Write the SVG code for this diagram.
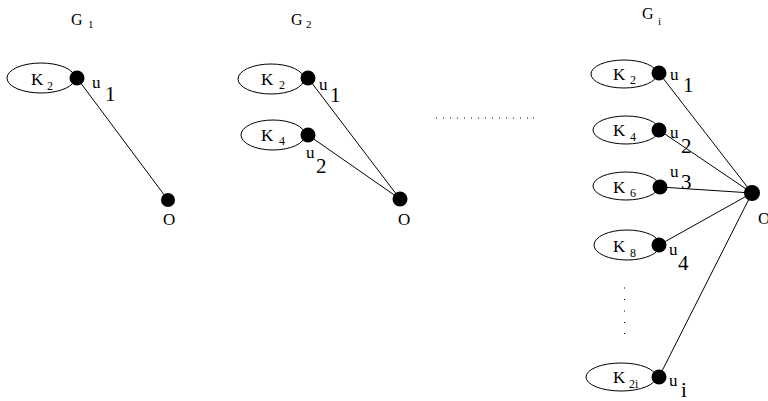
<svg xmlns="http://www.w3.org/2000/svg" width="768" height="401" viewBox="0 0 768 401">
<style>
text{font-family:"Liberation Serif","Times New Roman",serif;fill:#000}
.m{font-size:17px}
.s{font-size:12px}
.u{font-size:17px}
.us{font-size:21px}
.g{font-size:16px}
.gs{font-size:11px}
ellipse{fill:none;stroke:#000;stroke-width:1}
circle{fill:#000}
#edges line{stroke:#000;stroke-width:1}
.dot{fill:#000}
</style>
<rect width="768" height="401" fill="#fff"/>
<g id="edges">
<line x1="77" y1="78" x2="168" y2="200"/>
<line x1="308" y1="78" x2="400" y2="199"/>
<line x1="308" y1="135" x2="400" y2="199"/>
<line x1="659" y1="73" x2="752" y2="193"/>
<line x1="659" y1="130" x2="752" y2="193"/>
<line x1="660" y1="187" x2="752" y2="193"/>
<line x1="659" y1="245" x2="752" y2="193"/>
<line x1="659" y1="377" x2="752" y2="193"/>
</g>
<g id="titles">
<text x="71" y="25" class="g">G</text><text x="88" y="28" class="gs">1</text>
<text x="291" y="25" class="g">G</text><text x="306" y="28" class="gs">2</text>
<text x="642" y="19" class="g">G</text><text x="658" y="25" class="gs">i</text>
</g>
<g id="g1-k2">
<ellipse cx="41" cy="78" rx="34" ry="15"/>
<text x="31" y="85" class="m">K</text><text x="47" y="90" class="s">2</text>
</g>
<g id="g1-u1">
<circle cx="77" cy="78" r="7.5"/>
<text x="92" y="88" class="u">u</text><text x="105" y="101" class="us">1</text>
</g>
<g id="g1-o">
<circle cx="168" cy="200" r="7"/>
<text x="163" y="225" class="m">O</text>
</g>
<g id="g2-k2">
<ellipse cx="271" cy="79" rx="33" ry="15"/>
<text x="261" y="85" class="m">K</text><text x="279" y="89" class="s">2</text>
</g>
<g id="g2-u1">
<circle cx="308" cy="78" r="7.5"/>
<text x="319" y="90" class="u">u</text><text x="330" y="102" class="us">1</text>
</g>
<g id="g2-k4">
<ellipse cx="273" cy="135" rx="32" ry="15"/>
<text x="261" y="141" class="m">K</text><text x="279" y="145" class="s">4</text>
</g>
<g id="g2-u2">
<circle cx="308" cy="135" r="7.5"/>
<text x="306" y="158" class="u">u</text><text x="316" y="173" class="us">2</text>
</g>
<g id="g2-o">
<circle cx="400" cy="199" r="7.5"/>
<text x="398" y="225" class="m">O</text>
</g>
<g id="ellipsis-h">
<g class="dot">
<rect x="436" y="117.5" width="1" height="1"/><rect x="443" y="117.5" width="1" height="1"/><rect x="450" y="117.5" width="1" height="1"/><rect x="457" y="117.5" width="1" height="1"/><rect x="464" y="117.5" width="1" height="1"/><rect x="471" y="117.5" width="1" height="1"/><rect x="478" y="117.5" width="1" height="1"/><rect x="485" y="117.5" width="1" height="1"/><rect x="492" y="117.5" width="1" height="1"/><rect x="499" y="117.5" width="1" height="1"/><rect x="506" y="117.5" width="1" height="1"/><rect x="513" y="117.5" width="1" height="1"/><rect x="520" y="117.5" width="1" height="1"/><rect x="527" y="117.5" width="1" height="1"/><rect x="533" y="117.5" width="1" height="1"/>
</g>
</g>
<g id="gi-k2">
<ellipse cx="624" cy="74" rx="33" ry="14"/>
<text x="613" y="80" class="m">K</text><text x="630" y="84" class="s">2</text>
</g>
<g id="gi-u1">
<circle cx="659" cy="73" r="7.5"/>
<text x="670" y="80" class="u">u</text><text x="683" y="92" class="us">1</text>
</g>
<g id="gi-k4">
<ellipse cx="626" cy="130" rx="33" ry="14"/>
<text x="613" y="136" class="m">K</text><text x="630" y="141" class="s">4</text>
</g>
<g id="gi-u2">
<circle cx="659" cy="130" r="7.5"/>
<text x="670" y="138" class="u">u</text><text x="681" y="153" class="us">2</text>
</g>
<g id="gi-k6">
<ellipse cx="626" cy="186" rx="33" ry="14"/>
<text x="613" y="193" class="m">K</text><text x="630" y="197" class="s">6</text>
</g>
<g id="gi-u3">
<circle cx="660" cy="187" r="7.5"/>
<text x="670" y="177" class="u">u</text><text x="681" y="189" class="us">3</text>
</g>
<g id="gi-k8">
<ellipse cx="627" cy="245" rx="33" ry="15"/>
<text x="613" y="252" class="m">K</text><text x="630" y="257" class="s">8</text>
</g>
<g id="gi-u4">
<circle cx="659" cy="245" r="7.5"/>
<text x="669" y="255" class="u">u</text><text x="678" y="270" class="us">4</text>
</g>
<g id="ellipsis-v">
<rect x="624" y="287.5" width="1" height="1"/><rect x="624" y="299" width="1" height="1"/><rect x="624" y="310.5" width="1" height="1"/><rect x="624" y="322" width="1" height="1"/><rect x="624" y="333" width="1" height="1"/>
</g>
<g id="gi-k2i">
<ellipse cx="621" cy="377" rx="35" ry="14"/>
<text x="613" y="383" class="m">K</text><text x="629" y="388" class="s">2i</text>
</g>
<g id="gi-ui">
<circle cx="659" cy="377" r="7.5"/>
<text x="669" y="386" class="u">u</text><text x="681" y="397" class="us">i</text>
</g>
<g id="gi-o">
<circle cx="752" cy="193" r="8"/>
<text x="758" y="224" class="m">O</text>
</g>
</svg>
